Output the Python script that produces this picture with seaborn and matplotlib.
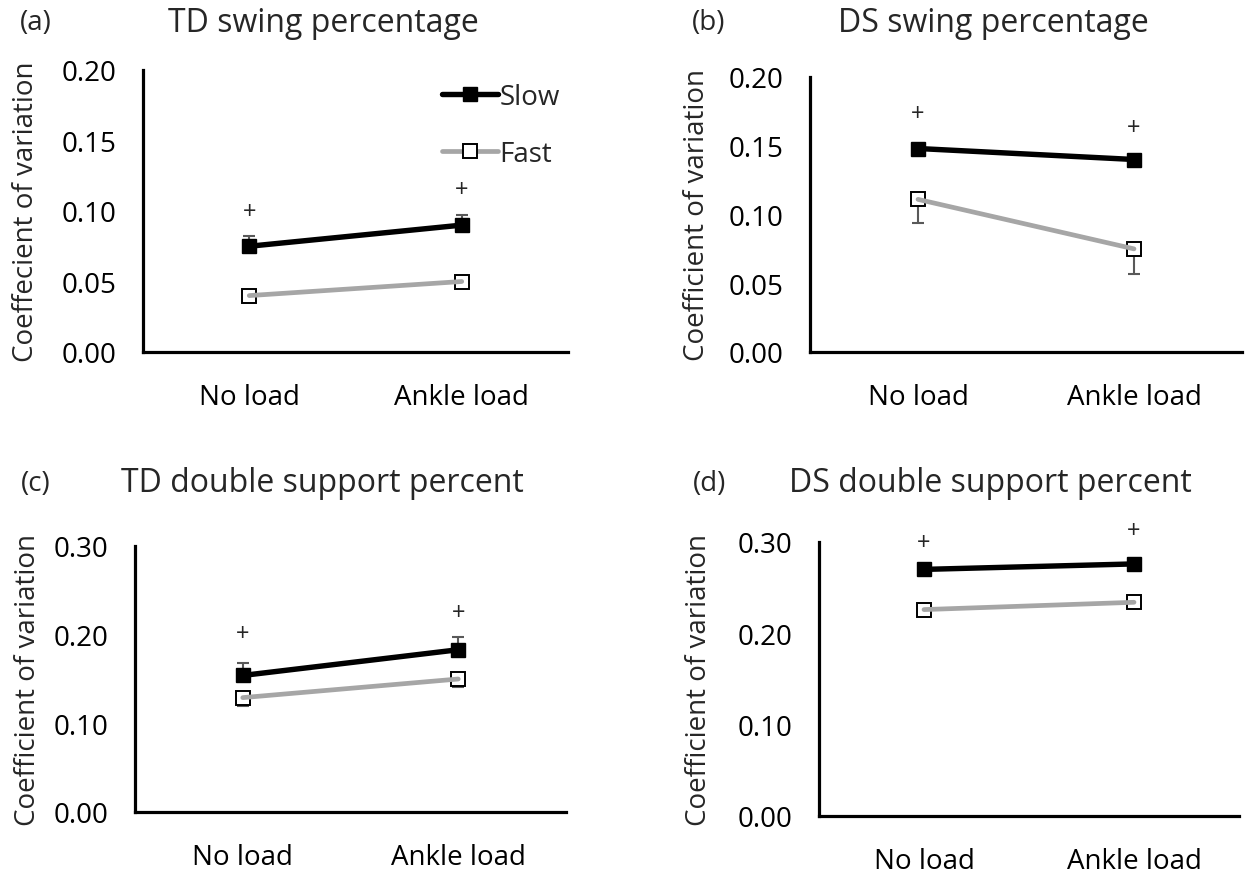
import matplotlib
matplotlib.use("Agg")
import matplotlib.pyplot as plt
import seaborn as sns
import pandas as pd
from matplotlib.lines import Line2D
from matplotlib.ticker import FixedLocator, MultipleLocator, FormatStrFormatter

# ---------------- data ----------------
conditions = ["No load", "Ankle load"]
series_names = ["Slow", "Fast"]

a_slow = [0.075, 0.090]
a_slow_err = [0.007, 0.007]
a_fast = [0.040, 0.050]
a_fast_err = [0.004, 0.003]
a_plus = [0.099, 0.115]

b_slow = [0.148, 0.140]
b_slow_err = [0.002, 0.002]
b_fast = [0.111, 0.075]
b_fast_err = [0.017, 0.018]
b_plus = [0.173, 0.163]

c_slow = [0.154, 0.183]
c_slow_err = [0.014, 0.014]
c_fast = [0.129, 0.150]
c_fast_err = [0.010, 0.009]
c_plus = [0.201, 0.224]

d_slow = [0.270, 0.276]
d_slow_err = [0.003, 0.003]
d_fast = [0.226, 0.234]
d_fast_err = [0.003, 0.003]
d_plus = [0.299, 0.312]

panel_letters = ["(a)", "(b)", "(c)", "(d)"]
panel_titles = ["TD swing percentage", "DS swing percentage",
                "TD double support percent", "DS double support percent"]
y_labels = ["Coeffecient of variation", "Coefficient of variation",
            "Coefficient of variation", "Coefficient of variation"]
y_max = [0.20, 0.20, 0.30, 0.30]
y_step = [0.05, 0.05, 0.10, 0.10]

# ---------------- style ----------------
sns.set_theme(style="white")
plt.rcParams["font.family"] = ["Open Sans", "DejaVu Sans"]

W, H = 1254, 878
fig = plt.figure(figsize=(W / 100, H / 100), dpi=100)

def px_axes(l, r, t, b):
    return fig.add_axes([l / W, 1 - b / H, (r - l) / W, (b - t) / H])

axes_px = [(143, 568, 71, 353), (810, 1242, 78, 353),
           (135, 566, 547, 813), (819, 1239, 543, 817)]
letter_px = [(36, 23), (709, 23), (36, 484), (710, 484)]
title_px = [(323, 23), (993, 23), (322, 484), (990, 484)]
ylabel_right = [40, 711, 42, 713]

panels = [
    (a_slow, a_slow_err, a_fast, a_fast_err, a_plus),
    (b_slow, b_slow_err, b_fast, b_fast_err, b_plus),
    (c_slow, c_slow_err, c_fast, c_fast_err, c_plus),
    (d_slow, d_slow_err, d_fast, d_fast_err, d_plus),
]

slow_style = dict(color="black", lw=3.9, marker="s", markersize=10.5,
                  markerfacecolor="black", markeredgecolor="black", markeredgewidth=1.0)
fast_line = dict(color="#a6a6a6", lw=3.4)
fast_marker = dict(marker="s", markersize=10, markerfacecolor="white",
                   markeredgecolor="black", markeredgewidth=1.4)
err_color = "#595959"

for i, (slow, slow_err, fast, fast_err, plus) in enumerate(panels):
    ax = px_axes(*axes_px[i])
    xs = list(range(len(conditions)))

    # error bars (Slow upward, Fast downward)
    ax.errorbar(xs, slow, yerr=[[0] * len(slow), slow_err], fmt="none",
                ecolor=err_color, elinewidth=1.5, capsize=4.3, capthick=1.5, zorder=2)
    ax.errorbar(xs, fast, yerr=[fast_err, [0] * len(fast)], fmt="none",
                ecolor=err_color, elinewidth=1.5, capsize=4.3, capthick=1.5, zorder=2)

    df_slow = pd.DataFrame({"condition": conditions, "cv": slow})
    df_fast = pd.DataFrame({"condition": conditions, "cv": fast})
    # Fast: white square markers, grey line drawn over them (as in the original)
    sns.lineplot(data=df_fast, x="condition", y="cv", ax=ax, zorder=3,
                 linestyle="none", color="black", **fast_marker)
    sns.lineplot(data=df_fast, x="condition", y="cv", ax=ax, zorder=3.5, **fast_line)
    sns.lineplot(data=df_slow, x="condition", y="cv", ax=ax, zorder=4, **slow_style)

    for j, pv in enumerate(plus):
        ax.text(j, pv, "+", ha="center", va="center", fontsize=17, clip_on=False)

    ax.set_xlim(-0.5, 1.5)
    ax.set_ylim(0, y_max[i])
    ax.yaxis.set_major_locator(MultipleLocator(y_step[i]))
    ax.yaxis.set_major_formatter(FormatStrFormatter("%.2f"))
    ax.xaxis.set_major_locator(FixedLocator(xs))
    ax.set_xticklabels(conditions)
    ax.xaxis.set_minor_locator(FixedLocator([-0.5, 1.5]))
    ax.set_xlabel("")
    ax.set_ylabel(y_labels[i], fontsize=20)
    ax.yaxis.set_label_coords((ylabel_right[i] - axes_px[i][0]) / (axes_px[i][1] - axes_px[i][0]), 0.5)

    for s in ["top", "right"]:
        ax.spines[s].set_visible(False)
    for s in ["left", "bottom"]:
        ax.spines[s].set_linewidth(2.3)
        ax.spines[s].set_color("black")
    ax.tick_params(axis="both", which="both", direction="out", length=7, width=2,
                   color="black", labelsize=20, labelcolor="black")
    ax.tick_params(axis="x", which="both", pad=15)
    ax.tick_params(axis="y", pad=12)

    fig.text(letter_px[i][0] / W, 1 - letter_px[i][1] / H, panel_letters[i],
             ha="center", va="center", fontsize=20)
    fig.text(title_px[i][0] / W, 1 - title_px[i][1] / H, panel_titles[i],
             ha="center", va="center", fontsize=23)

    if i == 0:
        handles = [Line2D([], [], **slow_style),
                   Line2D([], [], **fast_line, **fast_marker)]
        ax.legend(handles, series_names, loc="upper left", bbox_to_anchor=(0.704, 0.955),
                  frameon=False, fontsize=20, handlelength=2.0, handletextpad=0.05,
                  labelspacing=1.05, borderpad=0, borderaxespad=0)

fig.savefig("out.png", dpi=100, facecolor="white")
